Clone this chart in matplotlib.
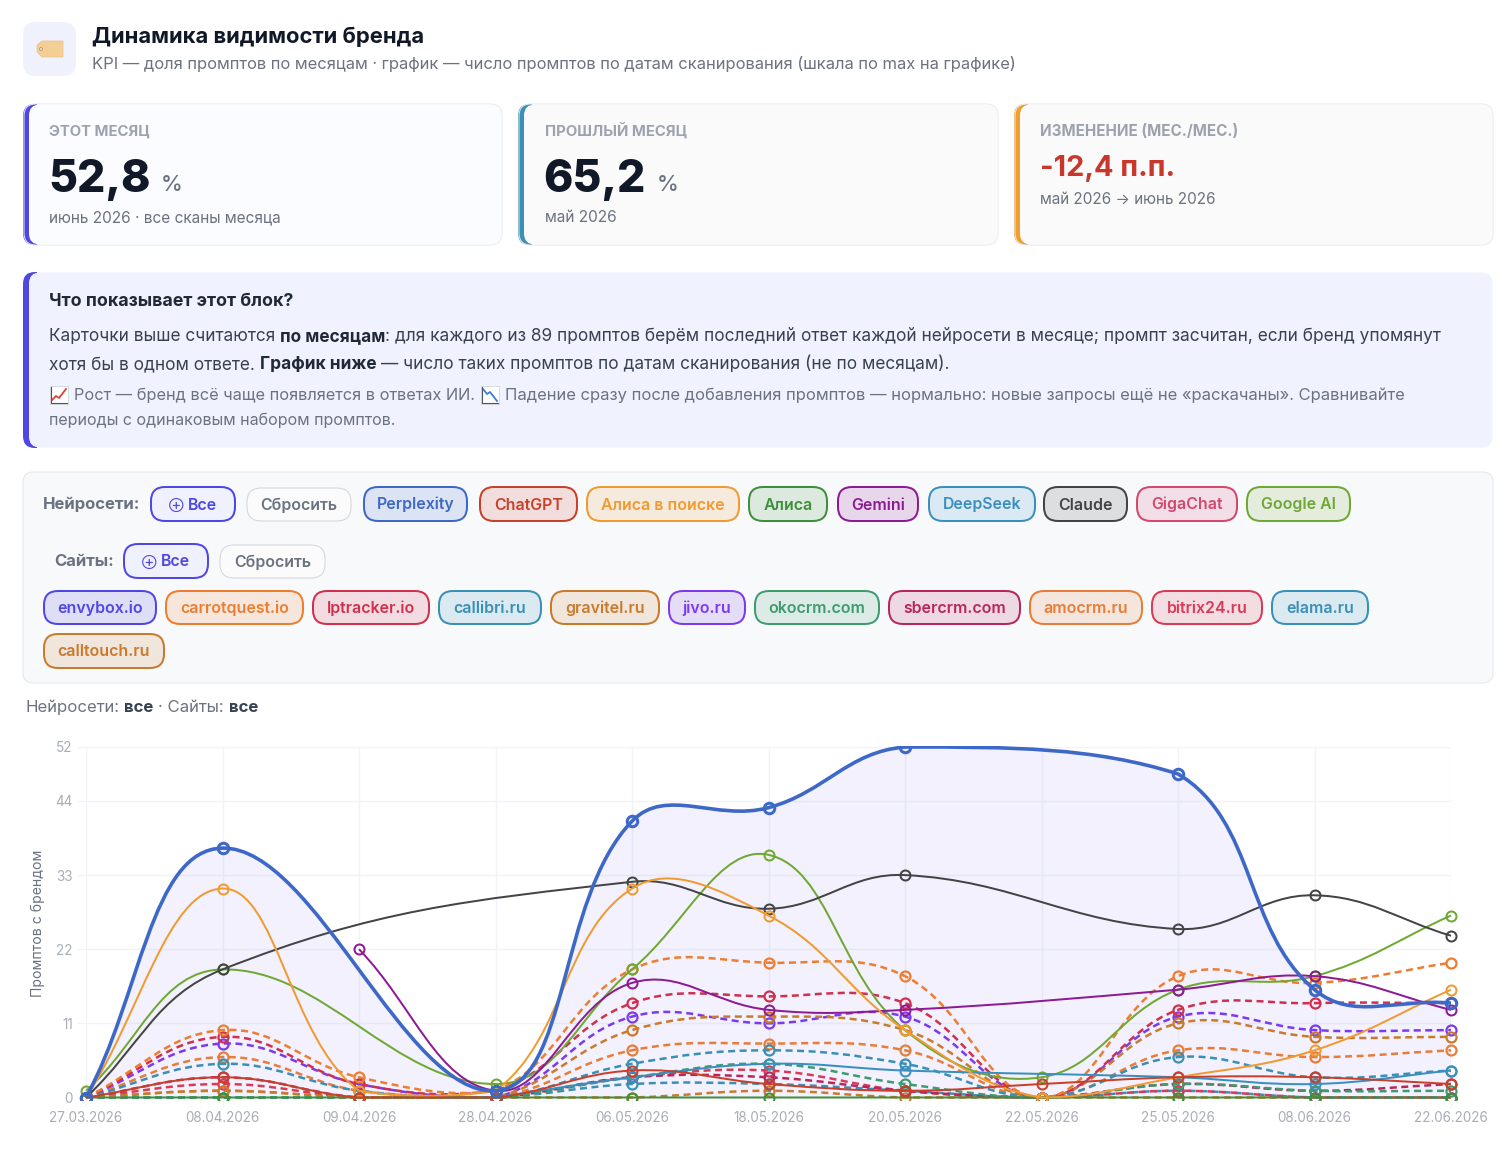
# -*- coding: utf-8 -*-
import matplotlib
matplotlib.use('Agg')
import matplotlib.pyplot as plt
from matplotlib.patches import FancyBboxPatch, PathPatch, Rectangle, Polygon, Circle
from matplotlib.path import Path

plt.rcParams['font.family'] = ['Inter', 'Noto Sans', 'DejaVu Sans']

# ... chart data, None means no scan for that date
dates = ['27.03.2026', '08.04.2026', '09.04.2026', '28.04.2026', '06.05.2026', '18.05.2026',
         '20.05.2026', '22.05.2026', '25.05.2026', '08.06.2026', '22.06.2026']
y_ticks = [0, 11, 22, 33, 44, 52]

perplexity = [0, 37, None, 1, 41, 43, 52, None, 48, 16, 14]
chatgpt = [0, 3, 0, 0, 4, 2, 1, 2, 3, 3, 2]
alisa_search = [0, 31, 1, 1, 31, 27, 10, 0, 3, 7, 16]
alisa = [0, 0, None, None, 0, 0, None, None, 0, 0, 0]
gemini = [None, None, 22, 1, 17, 13, 13, None, 16, 18, 13]
deepseek = [None, None, None, 0, 3, 5, 4, None, 3, 2, 4]
claude = [0, 19, None, None, 32, 28, 33, None, 25, 30, 24]
google_ai = [1, 19, None, 2, 19, 36, 10, 3, 16, 18, 27]

carrotquest = [0, 10, 3, 1, 19, 20, 18, 0, 18, 17, 20]
lptracker = [0, 9, 2, 1, 14, 15, 14, 0, 13, 14, 14]
jivo = [0, 8, 2, 0, 12, 11, 12, 0, 12, 10, 10]
gravitel = [0, 1, 0, 0, 10, 12, 10, 0, 11, 9, 9]
amocrm = [0, 6, 1, 0, 7, 8, 7, 0, 7, 6, 7]
callibri = [0, 5, 1, 0, 5, 7, 5, 0, 6, 3, 4]
okocrm = [0, 0, 0, 0, 3, 5, 2, 0, 2, 1, 1]
sbercrm = [0, 3, 0, 0, 3, 3, 1, 0, 2, 1, 2]
bitrix24 = [0, 2, 0, 0, 3, 4, 1, 0, 1, 0, 0]
elama = [0, 0, 0, 0, 2, 2, 1, 0, 1, 0, 0]
calltouch = [0, 1, 0, 0, 0, 1, 0, 0, 0, 0, 0]

net_names = ['Perplexity', 'ChatGPT', 'Алиса в поиске', 'Алиса', 'Gemini', 'DeepSeek', 'Claude', 'GigaChat', 'Google AI']
site_names = ['envybox.io', 'carrotquest.io', 'lptracker.io', 'callibri.ru', 'gravitel.ru', 'jivo.ru', 'okocrm.com',
              'sbercrm.com', 'amocrm.ru', 'bitrix24.ru', 'elama.ru', 'calltouch.ru']

W, H = 1504, 1156
PX = 0.72  # points per pixel at dpi 100
INDIGO = '#4f46e5'
GRAY = '#6b7280'
LIGHT = '#9ca3af'
DARK = '#111827'

net_colors = ['#3d68c8', '#c9402a', '#f09a30', '#3f8f3a', '#8e1a94', '#3a8fbf', '#444444', '#d4476f', '#6fa832']
site_colors = ['#4f46e5', '#ee7d2f', '#d0304d', '#3a8fb5', '#c97a2c', '#7c3aed', '#3f9b6e', '#b8265c', '#e87c38',
               '#d93a55', '#3a90b8', '#c97a2c']

fig = plt.figure(figsize=(W / 100, H / 100), dpi=100)
ui = fig.add_axes([0, 0, 1, 1], zorder=0)
ui.set_xlim(0, W)
ui.set_ylim(H, 0)
ui.axis('off')


def box(x0, y0, x1, y1, r, fc, ec='none', lw=1.0, z=1):
    p = FancyBboxPatch((x0 + r, y0 + r), x1 - x0 - 2 * r, y1 - y0 - 2 * r,
                       boxstyle='round,pad=%f,rounding_size=%f' % (r, r),
                       fc=fc, ec=ec, lw=lw * PX, zorder=z)
    ui.add_patch(p)
    return p


def label(x, y, s, size, color=GRAY, weight='normal', ha='left', z=5):
    return ui.text(x, y, s, fontsize=size * PX, color=color, fontweight=weight, ha=ha, va='baseline', zorder=z)


def runs(x, y, parts, size):
    # text pieces of different weight on one line
    r = fig.canvas.get_renderer()
    for s, weight, color in parts:
        if s.startswith(' '):
            x += size * 0.28
        t = label(x, y, s.strip(), size, color, weight)
        x += t.get_window_extent(r).width
        if s.endswith(' '):
            x += size * 0.28


def card(x0, y0, x1, y1, accent, fc, border):
    a = box(x0, y0, x1, y1, 12, accent, z=1)
    a.set_clip_path(Rectangle((x0, y0), 14, y1 - y0, transform=ui.transData))
    if border != 'none':
        box(x0 + 1, y0, x1, y1, 12, 'none', border, 1.0, z=1.5)
    box(x0 + 6, y0 + 0.5, x1 - 0.5, y1 - 0.5, 11, fc, z=2)


def chip(x0, x1, y0, y1, s, color, fc=None, ec=None, lw=2.0, icon=False):
    box(x0, y0, x1, y1, 14, fc if fc else color + '26', ec if ec else color, lw, z=3)
    base = (y0 + y1) / 2 + 5.5
    if icon:
        label(x0 + 25, base - 1, '⊕', 10.5, color, 'bold', ha='center')
        label(x0 + 37, base, s, 15.9, color, 'semibold')
    else:
        label((x0 + x1) / 2, base, s, 15.9, color, 'semibold', ha='center')


def emoji_chart(x, y, color, pts):
    ui.add_patch(Rectangle((x, y), 18, 18, fc='#ffffff', ec='#c9ced8', lw=0.5, zorder=4))
    ui.plot([x + a for a, b in pts], [y + b for a, b in pts], color=color, lw=1.3, zorder=5)
    ui.plot([x + 1, x + 1, x + 17], [y + 1, y + 17, y + 17], color='#4b5563', lw=0.8, zorder=5)


# ... header
box(23, 22, 76, 76, 13, '#eff1fd')
ui.add_patch(Polygon([(37, 45), (42, 41), (63, 41), (63, 57), (42, 57), (37, 52)], fc='#f4cf95', ec='#ecc283', lw=0.5, zorder=3))
ui.add_patch(Circle((41, 49), 1.4, fc='#e8e8e8', ec='#a08a60', lw=0.5, zorder=4))
label(92, 43, 'Динамика видимости бренда', 22, DARK, 'bold')
label(92, 69, 'KPI — доля промптов по месяцам · график — число промптов по датам сканирования (шкала по max на графике)', 16.52)

# ... KPI cards
card(23, 104, 502, 245, INDIGO, '#fbfcff', '#e5e7eb')
card(518, 104, 998, 245, '#3a8fb5', '#fafafa', '#e5e7eb')
card(1014, 104, 1493, 245, '#f0a030', '#fafafa', '#e5e7eb')

label(49, 136, 'ЭТОТ МЕСЯЦ', 14.9, LIGHT, 'bold')
label(48, 192, '52,8', 44.5, DARK, 'heavy')
label(161, 191, '%', 22, GRAY, 'medium')
label(49, 222, 'июнь 2026 · все сканы месяца', 15.4)

label(545, 136, 'ПРОШЛЫЙ МЕСЯЦ', 14.9, LIGHT, 'bold')
label(543, 192, '65,2', 44.5, DARK, 'heavy')
label(657, 191, '%', 22, GRAY, 'medium')
label(545, 222, 'май 2026', 15.4)

label(1040, 136, 'ИЗМЕНЕНИЕ (МЕС./МЕС.)', 15.2, LIGHT, 'bold')
label(1040, 176, '-12,4 п.п.', 29, '#c9372c', 'bold')
label(1040, 204, 'май 2026 → июнь 2026', 15.3)

# ... explanation block
card(23, 272, 1493, 448, INDIGO, '#f0f2fe', 'none')
label(49, 306, 'Что показывает этот блок?', 17.8, '#1f2937', 'bold')
runs(49, 341, [('Карточки выше считаются ', 'normal', '#374151'), ('по месяцам', 'bold', '#1f2937'),
               (': для каждого из 89 промптов берём последний ответ каждой нейросети в месяце; промпт засчитан, если бренд упомянут', 'normal', '#374151')], 17.26)
runs(49, 369, [('хотя бы в одном ответе. ', 'normal', '#374151'), ('График ниже', 'bold', '#1f2937'),
               (' — число таких промптов по датам сканирования (не по месяцам).', 'normal', '#374151')], 17.26)
emoji_chart(50, 386, '#d9413a', [(2, 14), (6, 10), (9, 12), (16, 3)])
label(74, 400, 'Рост — бренд всё чаще появляется в ответах ИИ.', 16.3)
emoji_chart(481, 386, '#3a7fd5', [(2, 3), (6, 8), (9, 6), (16, 15)])
label(505, 400, 'Падение сразу после добавления промптов — нормально: новые запросы ещё не «раскачаны». Сравнивайте', 16.6)
label(49, 425, 'периоды с одинаковым набором промптов.', 16.0)

# ... filter panel
box(23, 472, 1493, 683, 10, '#f8f9fb', '#e5e7eb', 1.0)
label(43, 509, 'Нейросети:', 16.7, GRAY, 'bold')
label(54, 566, 'Сайты:', 16.7, GRAY, 'bold')

chip(151, 235, 487, 521, 'Все', INDIGO, '#eff1fe', icon=True)
chip(247, 351, 488, 521, 'Сбросить', GRAY, '#fbfbfc', '#d1d5db', 1.0)
chip(124, 208, 544, 578, 'Все', INDIGO, '#eff1fe', icon=True)
chip(220, 325, 545, 578, 'Сбросить', GRAY, '#fbfbfc', '#d1d5db', 1.0)

net_x = [(364, 467), (480, 577), (587, 739), (749, 827), (838, 918), (929, 1035), (1044, 1127), (1137, 1237), (1247, 1350)]
for (x0, x1), name, c in zip(net_x, net_names, net_colors):
    chip(x0, x1, 487, 521, name, c)

site_x = [(44, 156), (166, 303), (313, 429), (439, 541), (551, 659), (669, 745), (755, 879), (889, 1020), (1030, 1142),
          (1152, 1262), (1272, 1368)]
for (x0, x1), name, c in zip(site_x, site_names, site_colors):
    chip(x0, x1, 591, 624, name, c)
chip(44, 164, 634, 668, site_names[11], site_colors[11])

runs(25.5, 712, [('Нейросети: ', 'normal', GRAY), ('все', 'bold', '#374151'), (' · Сайты: ', 'normal', GRAY), ('все', 'bold', '#374151')], 16.75)

# ... the chart itself
LEFT, RIGHT, TOP, BOTTOM = 86, 1451, 747, 1097.5
ax = fig.add_axes([LEFT / W, 1 - BOTTOM / H, (RIGHT - LEFT) / W, (BOTTOM - TOP) / H], zorder=2)
ax.patch.set_alpha(0)
ax.set_xlim(0, len(dates) - 1)
ax.set_ylim(0, 52)
for s in ax.spines.values():
    s.set_visible(False)
ax.set_xticks(range(len(dates)))
ax.set_xticklabels(dates)
ax.set_yticks(y_ticks)
ax.grid(True, color='#f1f3f8', lw=1.0)
ax.set_axisbelow(True)
ax.tick_params(axis='both', length=6.5, width=0.8, color='#f1f3f8', labelcolor='#a8adb8', labelsize=13.5 * PX, pad=3)
fig.text(38 / W, 1 - 923 / H, 'Промптов с брендом', rotation=90, fontsize=14 * PX, color=GRAY, ha='center', va='center')

SX = (RIGHT - LEFT) / (len(dates) - 1)
SY = (BOTTOM - TOP) / 52.0
clip_rect = Rectangle((60, 746), 1420, 354, transform=ui.transData)


def curve(values, tension=0.4):
    # bezier through the points, same idea as chart.js splines, gaps are spanned
    pts = [(i, v) for i, v in enumerate(values) if v is not None]
    verts = [pts[0]]
    codes = [Path.MOVETO]
    n = len(pts)
    out_c = []
    in_c = []
    for k in range(n):
        p = pts[max(k - 1, 0)]
        c = pts[k]
        q = pts[min(k + 1, n - 1)]
        d1 = (((c[0] - p[0]) * SX) ** 2 + ((c[1] - p[1]) * SY) ** 2) ** 0.5
        d2 = (((q[0] - c[0]) * SX) ** 2 + ((q[1] - c[1]) * SY) ** 2) ** 0.5
        tot = d1 + d2
        s1 = d1 / tot if tot else 0
        s2 = d2 / tot if tot else 0
        dx, dy = q[0] - p[0], q[1] - p[1]
        in_c.append((c[0] - tension * s1 * dx, min(max(c[1] - tension * s1 * dy, 0), 52)))
        out_c.append((c[0] + tension * s2 * dx, min(max(c[1] + tension * s2 * dy, 0), 52)))
    for k in range(1, n):
        verts += [out_c[k - 1], in_c[k], pts[k]]
        codes += [Path.CURVE4] * 3
    return verts, codes


def draw_series(values, color, lw, dashed=False, ms=10.0, mew=2.0, z=3):
    verts, codes = curve(values)
    patch = PathPatch(Path(verts, codes), fc='none', ec=color, lw=lw * PX, zorder=z, capstyle='butt', joinstyle='round')
    if dashed:
        patch.set_linestyle((0, (7.0 / lw, 4.5 / lw)))
    ax.add_patch(patch)
    patch.set_clip_path(clip_rect)
    xs = [i for i, v in enumerate(values) if v is not None]
    ys = [v for v in values if v is not None]
    m, = ax.plot(xs, ys, ls='none', marker='o', ms=ms * PX, mfc='none', mec=color, mew=mew * PX, zorder=z)
    m.set_clip_path(clip_rect)


# ... area under the main line
v, c = curve(perplexity)
v = v + [(10, 0), (0, 0), (0, 0)]
c = c + [Path.LINETO, Path.LINETO, Path.CLOSEPOLY]
area = PathPatch(Path(v, c), fc=INDIGO, alpha=0.07, ec='none', zorder=1.5)
ax.add_patch(area)

# later calls sit on top, the first datasets have to end up above the others
dashed_order = [(calltouch, 11), (elama, 10), (bitrix24, 9), (amocrm, 8), (sbercrm, 7), (okocrm, 6), (jivo, 5),
                (gravitel, 4), (callibri, 3), (lptracker, 2), (carrotquest, 1)]
z = 3.0
for vals, idx in dashed_order:
    draw_series(vals, site_colors[idx], 2.5, dashed=True, mew=2.2, z=z)
    z += 0.01
solid_order = [(google_ai, 8), (claude, 6), (deepseek, 5), (gemini, 4), (alisa, 3), (alisa_search, 2), (chatgpt, 1)]
for vals, idx in solid_order:
    draw_series(vals, net_colors[idx], 2.0, z=z)
    z += 0.01
draw_series(perplexity, net_colors[0], 3.6, ms=10.5, mew=3.0, z=z)

fig.savefig('out.png', dpi=100)
